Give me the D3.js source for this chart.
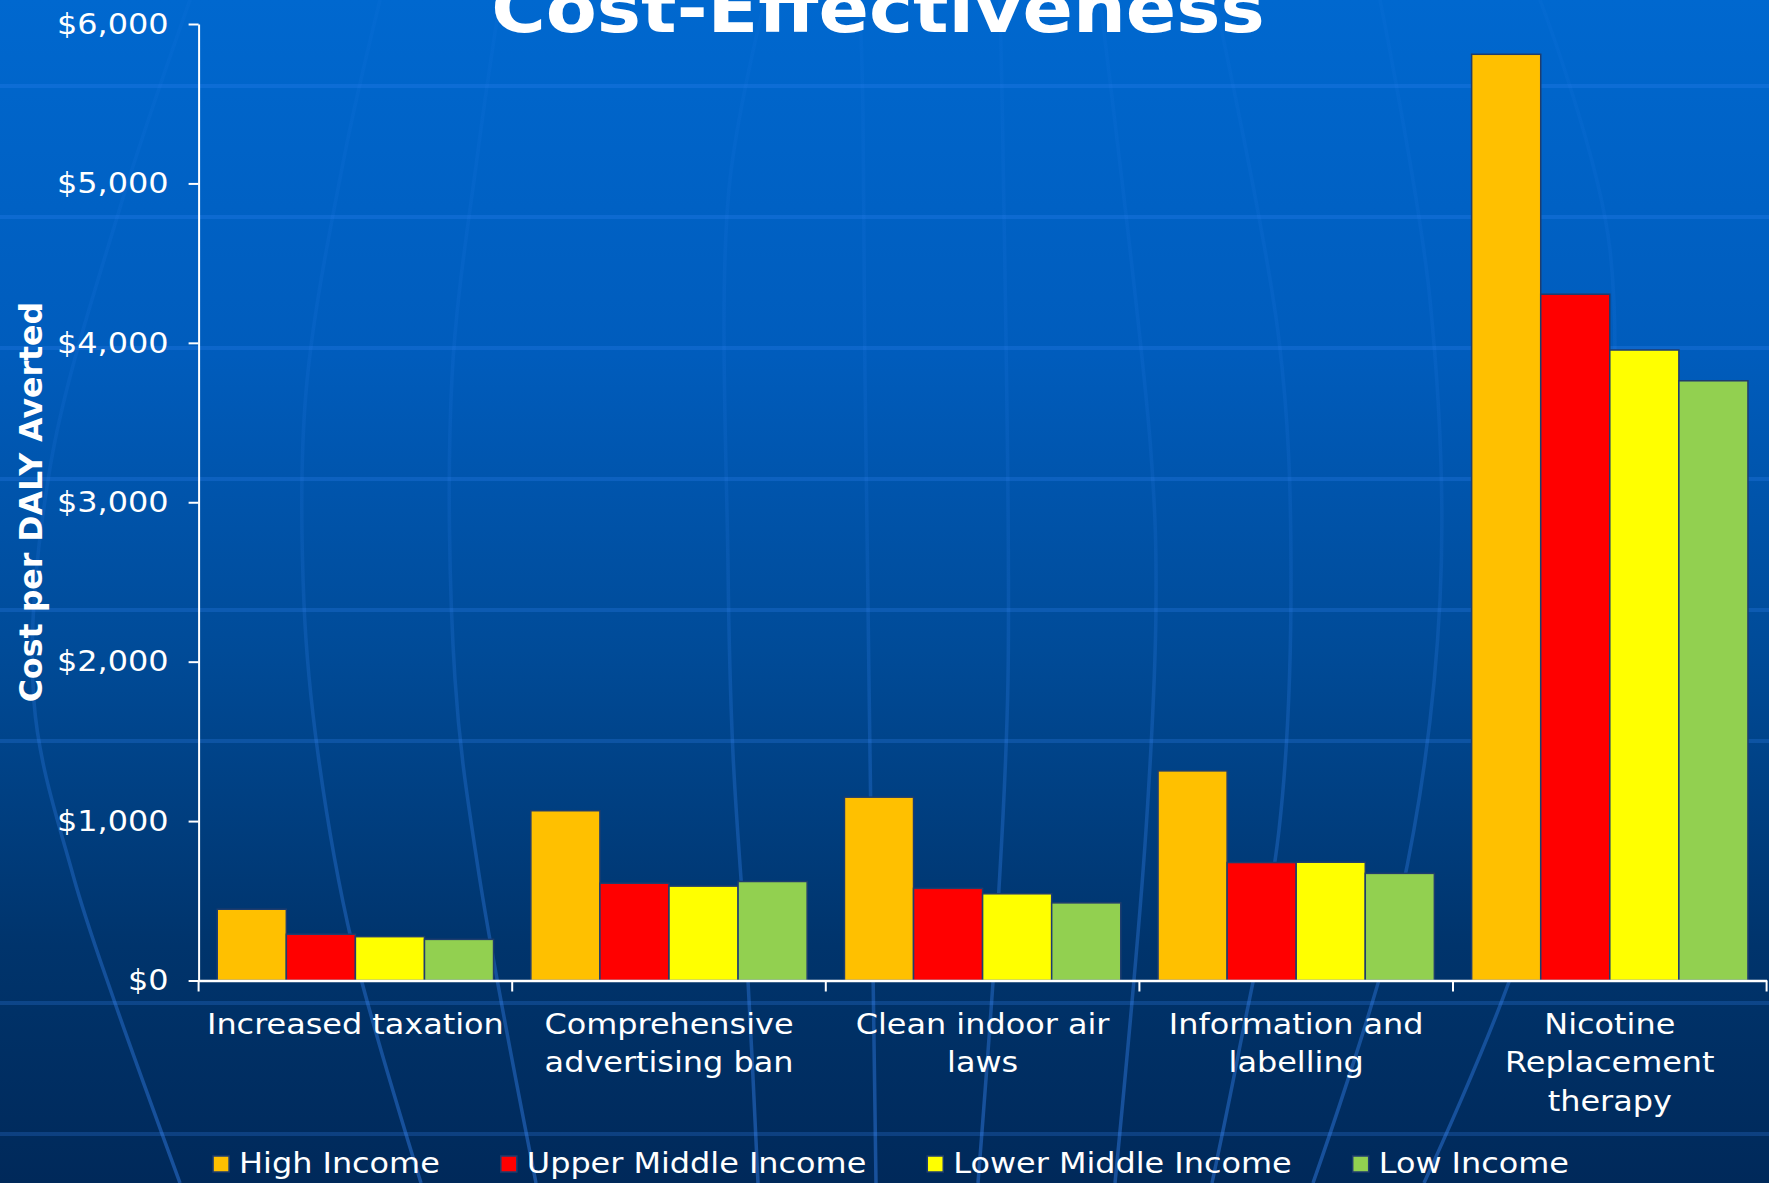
<!DOCTYPE html>
<html>
<head>
<meta charset="utf-8">
<script src="https://cdn.jsdelivr.net/npm/d3@7"></script>
<style>
html, body { margin: 0; padding: 0; background: #0066cc; overflow: hidden; }
svg { display: block; }
text { font-family: "DejaVu Sans", Verdana, sans-serif; fill: #fff; }
</style>
</head>
<body>
<svg id="chart" width="1769" height="1183"></svg>
<script>
// data
const categories = ["Increased taxation", "Comprehensive advertising ban", "Clean indoor air laws",
                    "Information and labelling", "Nicotine Replacement therapy"];
const seriesNames = ["High Income", "Upper Middle Income", "Lower Middle Income", "Low Income"];
const highIncome = [447, 1065, 1150, 1315, 5810];
const upperMiddleIncome = [290, 610, 578, 740, 4305];
const lowerMiddleIncome = [275, 592, 544, 742, 3955];
const lowIncome = [258, 621, 487, 672, 3762];
const yTicks = [0, 1000, 2000, 3000, 4000, 5000, 6000];
const seriesColors = ["#FFC000", "#FF0000", "#FFFF00", "#92D050"];

const seriesValues = [highIncome, upperMiddleIncome, lowerMiddleIncome, lowIncome];

const svg = d3.select("#chart"),
    width = +svg.attr("width"),
    height = +svg.attr("height");

const margin = {left: 198.6, right: 1766.6, top: 24, bottom: 980.5};
const stretch = 1.1; // the slide text is a bit wider than DejaVu

// background gradient
const defs = svg.append("defs");
const grad = defs.append("linearGradient")
    .attr("id", "bg").attr("x1", 0).attr("y1", 0).attr("x2", 0).attr("y2", 1);
[[0, "#0068cf"], [0.3, "#005cbc"], [0.55, "#004b98"], [0.8, "#00346c"], [1, "#00295a"]]
    .forEach(s => grad.append("stop").attr("offset", s[0]).attr("stop-color", s[1]));

// meridians fade out towards the top
const lineGrad = defs.append("linearGradient")
    .attr("id", "mer").attr("gradientUnits", "userSpaceOnUse")
    .attr("x1", 0).attr("y1", 0).attr("x2", 0).attr("y2", height);
[[0, 0.05], [0.45, 0.12], [0.75, 0.3], [1, 0.4]]
    .forEach(s => lineGrad.append("stop").attr("offset", s[0])
        .attr("stop-color", "#3c8cff").attr("stop-opacity", s[1]));

svg.append("rect").attr("width", width).attr("height", height).attr("fill", "url(#bg)");

// globe decoration behind the chart
const deco = svg.append("g").attr("fill", "none");
d3.range(9).filter(k => k !== 6).forEach(k => {
    deco.append("line")
        .attr("x1", 0).attr("x2", width)
        .attr("y1", 86 + 131 * k).attr("y2", 86 + 131 * k)
        .attr("stroke", "#3c8cff")
        .attr("stroke-width", 4).attr("stroke-opacity", 0.22);
});

const meridians = [
    [[190, 0], [119, 211], [50, 468], [34, 702], [73, 875], [115, 1003], [180, 1183]],
    [[380, 0], [344, 158], [306, 392], [304, 604], [318, 754], [352, 943], [421, 1183]],
    [[500, 0], [478, 151], [452, 377], [455, 679], [478, 868], [536, 1183]],
    [[765, 0], [729, 189], [728, 566], [733, 754], [748, 981], [758, 1183]],
    [[860, 0], [863, 113], [865, 377], [870, 754], [876, 1183]],
    [[1000, 0], [1003, 151], [1008, 679], [998, 905], [978, 1183]],
    [[1100, 0], [1151, 453], [1156, 604], [1146, 830], [1115, 1183]],
    [[1215, 0], [1279, 340], [1291, 566], [1279, 830], [1238, 1056], [1212, 1183]],
    [[1380, 0], [1430, 300], [1440, 600], [1400, 900], [1313, 1183]],
    [[1540, 0], [1610, 250], [1590, 650], [1520, 950], [1424, 1183]]
];
const curve = d3.line().curve(d3.curveCatmullRom);
deco.selectAll("path.meridian")
    .data(meridians)
    .enter()
    .append("path")
    .attr("class", "meridian")
    .attr("d", curve)
    .attr("stroke", "url(#mer)")
    .attr("stroke-width", 3.5);

// scales
const x0 = d3.scaleBand().domain(categories).range([margin.left, margin.right]);
const x1 = d3.scaleBand().domain(seriesNames).range([0, x0.bandwidth()]).paddingOuter(0.27);
const y = d3.scaleLinear().domain([0, 6000]).range([margin.bottom, margin.top]);

// bars
const groups = svg.append("g").selectAll("g")
    .data(categories)
    .enter()
    .append("g")
    .attr("transform", d => "translate(" + x0(d) + ",0)");

groups.selectAll("rect")
    .data((c, i) => seriesNames.map((s, j) => ({series: s, value: seriesValues[j][i], color: seriesColors[j]})))
    .enter()
    .append("rect")
    .attr("x", d => x1(d.series))
    .attr("width", x1.bandwidth())
    .attr("y", d => y(d.value))
    .attr("height", d => y(0) - y(d.value))
    .attr("fill", d => d.color)
    .attr("stroke", "#1f3d6e")
    .attr("stroke-width", 1.5);

// y axis
const yAxis = svg.append("g")
    .attr("transform", "translate(" + margin.left + ",0)")
    .style("color", "#fff")
    .call(d3.axisLeft(y).tickValues(yTicks).tickFormat(d3.format("$,")).tickSize(10).tickSizeOuter(0));
yAxis.select(".domain").attr("stroke-width", 2);
yAxis.selectAll(".tick line").attr("stroke-width", 2);
yAxis.selectAll(".tick text")
    .attr("x", -30 / stretch)
    .attr("transform", "scale(" + stretch + ",1)")
    .attr("font-family", "DejaVu Sans, Verdana, sans-serif")
    .attr("font-size", 29);

// x axis: line plus ticks at the category boundaries
const xAxis = svg.append("g")
    .attr("transform", "translate(0," + margin.bottom + ")")
    .style("color", "#fff")
    .call(d3.axisBottom(x0).tickSize(0).tickSizeOuter(0).tickFormat(""));
xAxis.select(".domain").attr("stroke-width", 2.5);
xAxis.selectAll(".tick").remove();
const bounds = categories.map(c => x0(c)).concat([margin.right]);
xAxis.selectAll("line.bound")
    .data(bounds)
    .enter()
    .append("line")
    .attr("class", "bound")
    .attr("x1", d => d).attr("x2", d => d)
    .attr("y1", 0).attr("y2", 11)
    .attr("stroke", "#fff")
    .attr("stroke-width", 2);

// category labels, wrapped like the slide
const maxLabel = 305, lineStep = 38.7;
categories.forEach(c => {
    const t = svg.append("text")
        .attr("transform", "translate(" + (x0(c) + x0.bandwidth() / 2) + "," + (margin.bottom + 53) + ") scale(" + stretch + ",1)")
        .attr("text-anchor", "middle")
        .attr("font-size", 29);
    const words = c.split(" ");
    let lines = [], cur = [];
    const probe = t.append("tspan");
    words.forEach(w => {
        const test = cur.concat([w]).join(" ");
        probe.text(test);
        if (cur.length && probe.node().getComputedTextLength() * stretch > maxLabel) {
            lines.push(cur.join(" "));
            cur = [w];
        } else {
            cur.push(w);
        }
    });
    lines.push(cur.join(" "));
    probe.remove();
    lines.forEach((l, i) => {
        t.append("tspan").attr("x", 0).attr("y", i * lineStep).text(l);
    });
});

// axis title
svg.append("text")
    .attr("transform", "translate(42,502) rotate(-90)")
    .attr("text-anchor", "middle")
    .attr("font-weight", "bold")
    .attr("font-size", 31.6)
    .text("Cost per DALY Averted");

// title (runs off the top of the slide, as in the original)
svg.append("text")
    .attr("transform", "translate(878,32) scale(" + stretch + ",1)")
    .attr("text-anchor", "middle")
    .attr("font-weight", "bold")
    .attr("font-size", 67.6)
    .text("Cost-Effectiveness");

// legend
const legend = svg.append("g");
const legendY = 1173, box = 16, boxGap = 10, itemGap = 61;
let lx = 0;
seriesNames.forEach((s, i) => {
    const item = legend.append("g").attr("transform", "translate(" + lx + ",0)");
    item.append("rect")
        .attr("x", 0).attr("y", legendY - 17)
        .attr("width", box).attr("height", box)
        .attr("fill", seriesColors[i])
        .attr("stroke", "#1f3d6e")
        .attr("stroke-width", 1.5);
    const t = item.append("text")
        .attr("transform", "translate(" + (box + boxGap) + "," + legendY + ") scale(" + stretch + ",1)")
        .attr("font-size", 29)
        .text(s);
    lx += box + boxGap + t.node().getComputedTextLength() * stretch + itemGap;
});
const legendWidth = lx - itemGap;
legend.attr("transform", "translate(" + (891 - legendWidth / 2) + ",0)");
</script>
</body>
</html>
